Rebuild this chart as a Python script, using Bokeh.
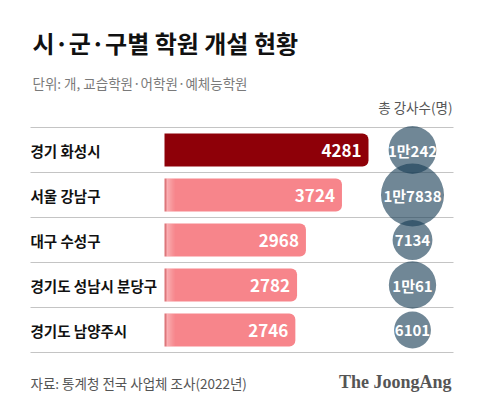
from bokeh.plotting import figure
from bokeh.models import Range1d, ColumnDataSource
from bokeh.core.properties import value
from bokeh.embed import file_html
from bokeh.resources import INLINE
import math

# Data: academies opened per district, and total instructors
regions = ["경기 화성시", "서울 강남구", "대구 수성구", "경기도 성남시 분당구", "경기도 남양주시"]
academies = [4281, 3724, 2968, 2782, 2746]
instructors = [10242, 17838, 7134, 10061, 6101]

title = "시·군·구별 학원 개설 현황"
subtitle = "단위: 개, 교습학원·어학원·예체능학원"
bubble_header = "총 강사수(명)"
source_note = "자료: 통계청 전국 사업체 조사(2022년)"
brand = "The JoongAng"

W, H = 480, 409
FONT = "Noto Sans CJK KR"

# Layout (pixels from top-left)
ROW_TOP = 127
ROW_H = 45
BAR_H = 33
BAR_X0 = 164
PX_PER_UNIT = 204 / 4281
BUBBLE_X = 412
BUBBLE_SCALE = 0.472  # diameter in px per sqrt(person)
LINE_X0, LINE_X1 = 30, 453


def korean_count(n):
    if n >= 10000:
        return f"{n // 10000}만{n % 10000}"
    return str(n)


n = len(regions)
row_y = [ROW_TOP + ROW_H * (i + 0.5) for i in range(n)]

p = figure(width=W, height=H, x_range=Range1d(0, W), y_range=Range1d(H, 0),
           x_axis_location=None, y_axis_location=None, toolbar_location=None,
           min_border=0, output_backend="svg")
p.grid.visible = False
p.outline_line_color = None
p.background_fill_color = "white"
p.border_fill_color = "white"

# value axis for the bars: 0 sits at the bar origin
p.extra_x_ranges = {"val": Range1d(-BAR_X0 / PX_PER_UNIT, (W - BAR_X0) / PX_PER_UNIT)}

# row separators
sep_y = [ROW_TOP + ROW_H * i for i in range(n + 1)]
p.segment(x0=[LINE_X0] * len(sep_y), x1=[LINE_X1] * len(sep_y), y0=sep_y, y1=sep_y,
          line_color="#c4c4c4", line_width=1)

bars = ColumnDataSource(dict(
    y=row_y,
    right=academies,
    left=[0] * n,
    color=["#8e0008"] + ["#f7858b"] * (n - 1),
    label=[str(v) for v in academies],
))
p.hbar(y="y", left="left", right="right", height=BAR_H, source=bars,
       fill_color="color", line_color=None, x_range_name="val",
       border_radius=(0, 6, 6, 0))

# soft fold at the bar origin
for dx, w, col, a in [(0, 2, "black", 0.10), (2, 2, "white", 0.35), (4, 2, "white", 0.25),
                      (6, 2, "white", 0.15), (8, 2, "white", 0.07)]:
    p.quad(left=[BAR_X0 + dx] * (n - 1), right=[BAR_X0 + dx + w] * (n - 1),
           top=[y - BAR_H / 2 for y in row_y[1:]], bottom=[y + BAR_H / 2 for y in row_y[1:]],
           fill_color=col, fill_alpha=a, line_color=None)

p.text(x="right", y="y", text="label", source=bars, x_range_name="val",
       x_offset=-7, text_align="right", text_baseline="middle",
       text_color="white", text_font=value(FONT), text_font_style="bold",
       text_font_size="17px")

bubbles = ColumnDataSource(dict(
    x=[BUBBLE_X] * n,
    y=row_y,
    r=[BUBBLE_SCALE * math.sqrt(v) / 2 for v in instructors],
    label=[korean_count(v) for v in instructors],
))
p.circle(x="x", y="y", radius="r", radius_units="screen", source=bubbles,
         fill_color="#193d56", fill_alpha=0.62, line_color=None)
p.text(x="x", y="y", text="label", source=bubbles, text_align="center",
       text_baseline="middle", text_color="white", text_font=value(FONT),
       text_font_style="bold", text_font_size="15px")

# category labels
p.text(x=[30] * n, y=row_y, text=regions, text_align="left", text_baseline="middle",
       text_color="#111111", text_font=value(FONT), text_font_size="14.5px",
       text_font_style="bold")

# headings and footer
p.text(x=[32], y=[42], text=[title], text_align="left", text_baseline="middle",
       text_color="#111111", text_font=value(FONT), text_font_style="bold",
       text_font_size="24px")
p.text(x=[32], y=[82], text=[subtitle], text_align="left", text_baseline="middle",
       text_color="#7a7a7a", text_font=value(FONT), text_font_size="13.5px")
p.text(x=[452], y=[106], text=[bubble_header], text_align="right", text_baseline="middle",
       text_color="#555555", text_font=value(FONT), text_font_size="13.5px")
p.text(x=[30], y=[382], text=[source_note], text_align="left", text_baseline="middle",
       text_color="#555555", text_font=value(FONT), text_font_size="13.5px")
p.text(x=[451], y=[381], text=[brand], text_align="right", text_baseline="middle",
       text_color="#555555", text_font=value("Liberation Serif"), text_font_style="bold",
       text_font_size="18px")

open("out.html", "w").write(file_html(p, INLINE))
